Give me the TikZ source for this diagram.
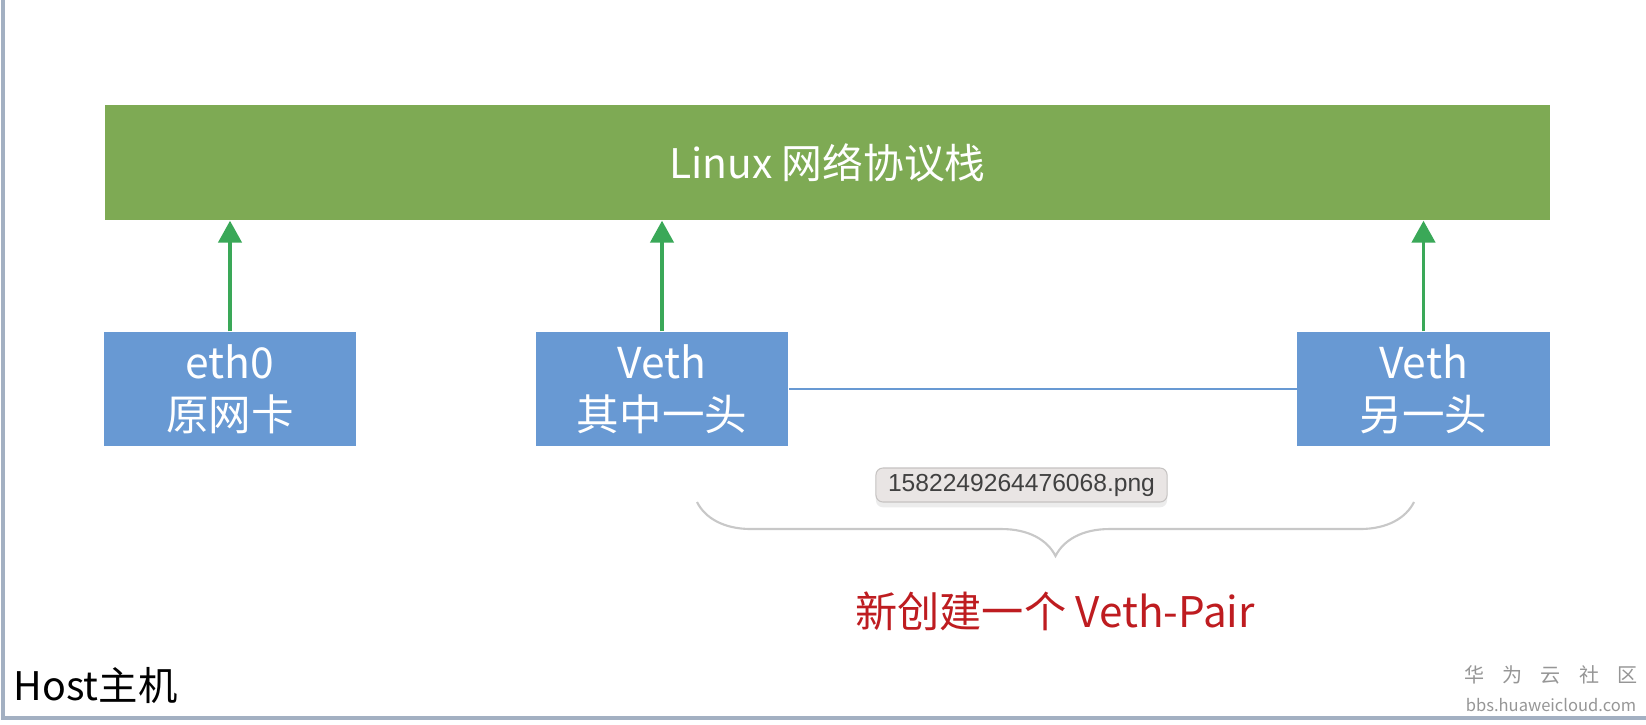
\documentclass[tikz,border=0pt]{standalone}
\usepackage{fontspec}
\setmainfont{Noto Sans CJK SC}
\newfontfamily\tipfont{Liberation Sans}
\usetikzlibrary{arrows.meta,positioning,decorations.pathreplacing,shadows}

\definecolor{stackgreen}{RGB}{126,170,84}
\definecolor{nicblue}{RGB}{104,153,211}
\definecolor{arrowgreen}{RGB}{58,168,88}
\definecolor{pairred}{RGB}{190,28,32}
\definecolor{framegray}{RGB}{163,176,194}
\definecolor{bracegray}{RGB}{200,200,200}
\definecolor{tipgray}{RGB}{233,229,228}
\definecolor{markgray}{RGB}{150,150,150}

\tikzset{
    stack/.style={rectangle,fill=stackgreen,text=white,minimum width=14.45cm,minimum height=1.15cm,
        font=\fontsize{11.6}{13}\selectfont},
    nic/.style={rectangle,fill=nicblue,text=white,minimum width=2.52cm,minimum height=1.14cm,
        align=center,inner sep=0pt,font=\fontsize{12.1}{14.9}\selectfont},
    uparrow/.style={draw=arrowgreen,line width=0.95pt,-{Triangle[width=6.6pt,length=6.2pt]}},
    pairline/.style={draw=nicblue,line width=0.6pt},
}

\begin{document}
\begin{tikzpicture}[x=0.01cm,y=-0.01cm]
        \useasboundingbox (0,0) rectangle (1646,724);
        \fill[white] (0,0) rectangle (1646,724);

        % host frame
        \draw[framegray,line width=0.9pt] (3,0) -- (3,718) -- (1646,718);

        \node[stack] (stack) at (827.5,162.5) {Linux 网络协议栈};

        \node[nic] (eth0) at (230,389) {eth0\\原网卡};
        \node[nic] (vetha) at (662,389) {Veth\\其中一头};
        \node[nic] (vethb) at (1423.5,389) {Veth\\另一头};

        \draw[uparrow] (eth0.north) -- (eth0.north |- stack.south);
        \draw[uparrow] (vetha.north) -- (vetha.north |- stack.south);
        \draw[uparrow] (vethb.north) -- (vethb.north |- stack.south);

        \draw[pairline] (vetha.east) -- (vethb.west);

        \node[rectangle,rounded corners=2pt,fill=tipgray,draw=tipgray!85!black,line width=0.3pt,
            drop shadow={opacity=0.15,shadow xshift=0pt,shadow yshift=-1.5pt},
            minimum width=2.91cm,minimum height=0.34cm,inner sep=0pt,
            font=\tipfont\fontsize{7}{8}\selectfont,text=black!75] (tip) at (1021.5,485) {1582249264476068.png};

        \coordinate (bl) at (697,502);
        \coordinate (br) at (1414,502);
        \draw[bracegray,line width=0.6pt,decorate,decoration={brace,mirror,amplitude=0.54cm}] (bl) -- (br);

        \node[text=pairred,font=\fontsize{12}{14}\selectfont] (pair) at (1055,611) {新创建一个 Veth-Pair};

        \node[anchor=west,inner sep=0pt,font=\fontsize{11.2}{13}\selectfont] (host) at (13,686) {Host主机};

        \node[text=markgray,font=\fontsize{5.7}{6}\selectfont] (mark) at (1551,675) {\spaceskip=5.2pt\relax 华 为 云 社 区};
        \node[text=markgray,font=\fontsize{4.7}{5}\selectfont,below=-3pt of mark] (site) {bbs.huaweicloud.com};

    \end{tikzpicture}
\end{document}
